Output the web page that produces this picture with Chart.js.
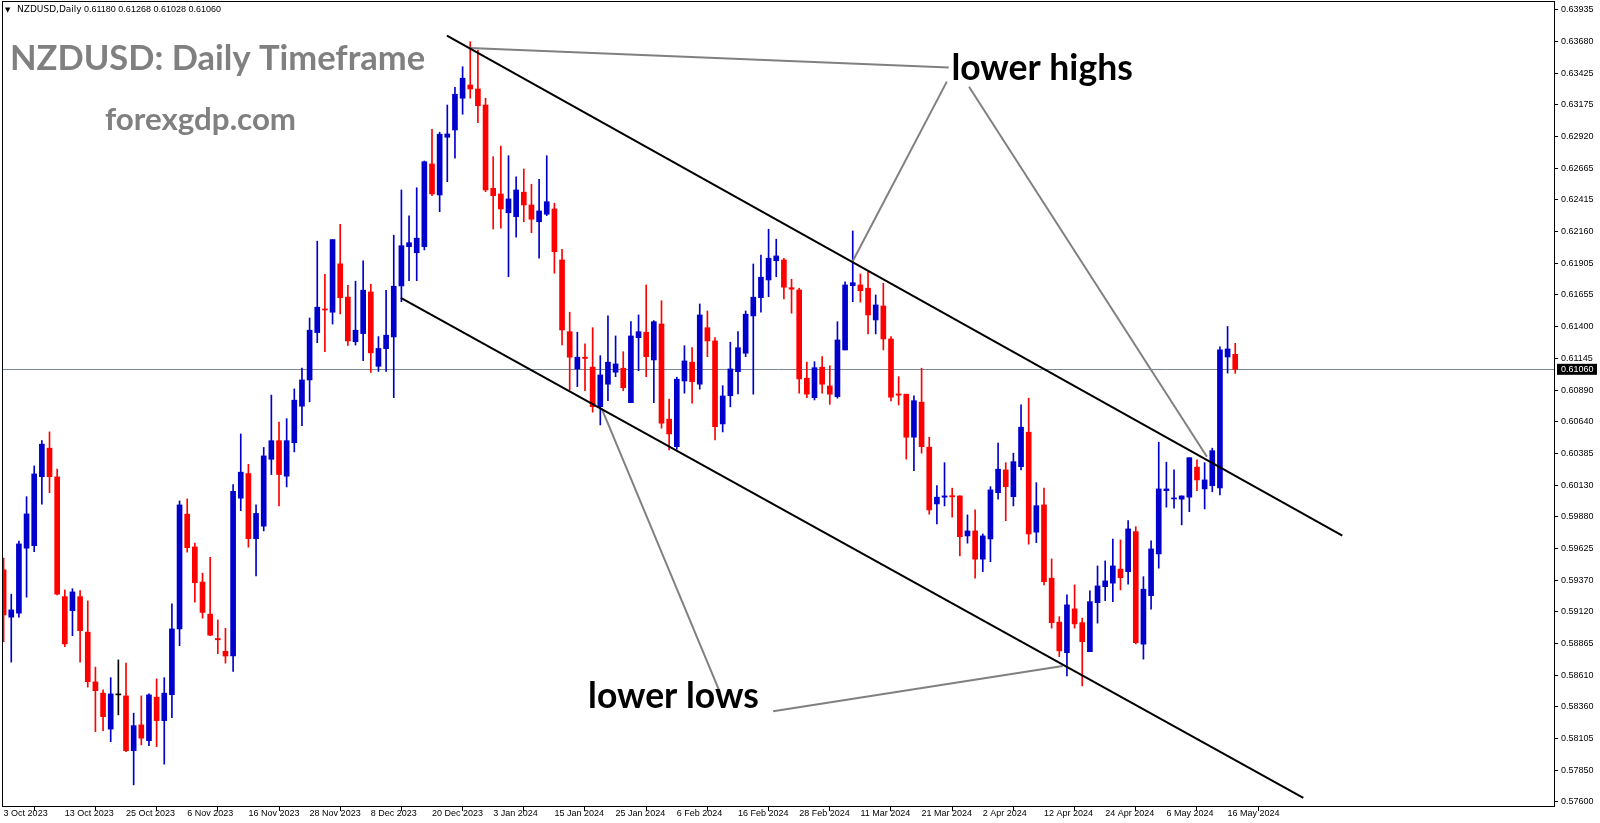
<!DOCTYPE html>
<html>
<head>
<meta charset="utf-8">
<title>NZDUSD Daily</title>
<script src="https://cdn.jsdelivr.net/npm/chart.js@4.4.1/dist/chart.umd.min.js"></script>
<style>
  html, body { margin: 0; padding: 0; background: #fff; }
  #wrap { width: 1600px; height: 823px; }
</style>
</head>
<body>
<div id="wrap"><canvas id="nzdChart" width="1600" height="823"></canvas></div>
<script>
// daily candles, 3 Oct 2023 .. 17 May 2024 (bar index = position on the x axis)
const opens = [
  0.59455, 0.59077, 0.59109, 0.59629, 0.59649, 0.60201, 0.60429, 0.60199, 0.59241, 0.59129,
  0.59241, 0.58957, 0.58559, 0.58469, 0.58181, 0.58455, 0.58447, 0.58009, 0.58215, 0.58089,
  0.58437, 0.58249, 0.58457, 0.58983, 0.59901, 0.59639, 0.59358, 0.59101, 0.58906, 0.58804,
  0.58766, 0.60029, 0.60226, 0.59705, 0.59805, 0.60340, 0.60489, 0.60205, 0.60473, 0.60765,
  0.60975, 0.61354, 0.61543, 0.61517, 0.61904, 0.61638, 0.61281, 0.61346, 0.61679, 0.61084,
  0.61225, 0.61319, 0.61727, 0.62041, 0.61993, 0.62041, 0.62703, 0.62455, 0.62917, 0.62975,
  0.63229, 0.63335, 0.63303, 0.63175, 0.62509, 0.62463, 0.62313, 0.62281, 0.62477, 0.62375,
  0.62241, 0.62301, 0.62343, 0.61935, 0.61361, 0.61063, 0.61157, 0.61077, 0.60761, 0.60941,
  0.61037, 0.61069, 0.60793, 0.61313, 0.61357, 0.61135, 0.61423, 0.60661, 0.60441, 0.60967,
  0.61117, 0.60941, 0.61393, 0.61287, 0.60623, 0.60849, 0.61041, 0.61189, 0.61487, 0.61633,
  0.61775, 0.61929, 0.61935, 0.61713, 0.61695, 0.60989, 0.60833, 0.61077, 0.60927, 0.60841,
  0.61215, 0.61729, 0.61735, 0.61709, 0.61455, 0.61567, 0.61303, 0.60863, 0.60861, 0.60517,
  0.60797, 0.60437, 0.59983, 0.60037, 0.60049, 0.60047, 0.59727, 0.59767, 0.59541, 0.59703,
  0.60073, 0.60255, 0.60041, 0.60281, 0.60557, 0.59757, 0.59975, 0.59389, 0.59037, 0.58793,
  0.59143, 0.59033, 0.58801, 0.59193, 0.59321, 0.59349, 0.59461, 0.59441, 0.59761, 0.58861,
  0.59249, 0.59583, 0.60089, 0.60023, 0.60021, 0.60037, 0.60277, 0.60103, 0.60129, 0.60111,
  0.61159, 0.61180
];
const highs = [
  0.59549, 0.59261, 0.59685, 0.60041, 0.60287, 0.60489, 0.60559, 0.60261, 0.59295, 0.59305,
  0.59289, 0.59207, 0.58677, 0.58495, 0.58593, 0.58735, 0.58709, 0.58309, 0.58447, 0.58463,
  0.58583, 0.58593, 0.59183, 0.60007, 0.60023, 0.59669, 0.59429, 0.59556, 0.59055, 0.58988,
  0.60137, 0.60543, 0.60300, 0.59975, 0.60435, 0.60854, 0.60637, 0.60665, 0.60903, 0.61070,
  0.61471, 0.62085, 0.61820, 0.62098, 0.62220, 0.61733, 0.61765, 0.61928, 0.61741, 0.61322,
  0.61693, 0.62133, 0.62495, 0.62289, 0.62513, 0.62727, 0.62981, 0.62957, 0.63175, 0.63317,
  0.63481, 0.63681, 0.63615, 0.63229, 0.62761, 0.62847, 0.62769, 0.62601, 0.62663, 0.62541,
  0.62581, 0.62769, 0.62389, 0.62021, 0.61517, 0.61357, 0.61263, 0.61393, 0.61169, 0.61487,
  0.61327, 0.61201, 0.61441, 0.61495, 0.61735, 0.61449, 0.61609, 0.60821, 0.60997, 0.61249,
  0.61233, 0.61583, 0.61527, 0.61313, 0.60929, 0.61277, 0.61361, 0.61527, 0.61903, 0.61975,
  0.62181, 0.62101, 0.61949, 0.61781, 0.61709, 0.61117, 0.61121, 0.61161, 0.61089, 0.61441,
  0.61761, 0.62167, 0.61823, 0.61841, 0.61655, 0.61749, 0.61321, 0.61001, 0.60861, 0.60847,
  0.61069, 0.60517, 0.60129, 0.60313, 0.60109, 0.60047, 0.59895, 0.59935, 0.59743, 0.60121,
  0.60469, 0.60313, 0.60389, 0.60775, 0.60829, 0.60153, 0.60109, 0.59543, 0.59081, 0.59255,
  0.59335, 0.59069, 0.59287, 0.59487, 0.59527, 0.59701, 0.59695, 0.59849, 0.59801, 0.59401,
  0.59687, 0.60477, 0.60317, 0.60255, 0.60047, 0.60353, 0.60335, 0.60313, 0.60429, 0.61239,
  0.61403, 0.61268
];
const lows = [
  0.58881, 0.58717, 0.59077, 0.59237, 0.59601, 0.59981, 0.60073, 0.59255, 0.58841, 0.58929,
  0.58717, 0.58517, 0.58161, 0.58169, 0.58081, 0.58295, 0.58000, 0.57735, 0.58055, 0.58049,
  0.58041, 0.57901, 0.58273, 0.58849, 0.59597, 0.59197, 0.59069, 0.58928, 0.58785, 0.58709,
  0.58642, 0.59929, 0.59637, 0.59407, 0.59767, 0.60218, 0.59967, 0.60119, 0.60399, 0.60610,
  0.60800, 0.61273, 0.61201, 0.61422, 0.61503, 0.61252, 0.61254, 0.61130, 0.61035, 0.61043,
  0.61043, 0.60833, 0.61601, 0.61769, 0.61769, 0.62015, 0.62449, 0.62321, 0.62561, 0.62749,
  0.63101, 0.63229, 0.63033, 0.62481, 0.62183, 0.62189, 0.61801, 0.62117, 0.62241, 0.62153,
  0.61949, 0.62290, 0.61829, 0.61255, 0.60895, 0.60921, 0.60889, 0.60717, 0.60615, 0.60809,
  0.61001, 0.60889, 0.60793, 0.61049, 0.61001, 0.60793, 0.60589, 0.60415, 0.60420, 0.60869,
  0.60789, 0.60901, 0.61161, 0.60495, 0.60559, 0.60760, 0.60863, 0.61161, 0.60861, 0.61517,
  0.61641, 0.61801, 0.61623, 0.61509, 0.60869, 0.60833, 0.60815, 0.60869, 0.60780, 0.60829,
  0.61215, 0.61601, 0.61597, 0.61343, 0.61343, 0.61215, 0.60807, 0.60775, 0.60341, 0.60249,
  0.60389, 0.59901, 0.59823, 0.59967, 0.59877, 0.59567, 0.59669, 0.59389, 0.59441, 0.59521,
  0.60021, 0.59849, 0.59967, 0.60255, 0.59661, 0.59673, 0.59335, 0.58989, 0.58761, 0.58607,
  0.58989, 0.58527, 0.58801, 0.59029, 0.59209, 0.59201, 0.59295, 0.59341, 0.58863, 0.58741,
  0.59141, 0.59469, 0.59957, 0.59949, 0.59815, 0.59921, 0.60089, 0.59943, 0.60080, 0.60055,
  0.61030, 0.61028
];
const closes = [
  0.59095, 0.59135, 0.59663, 0.59903, 0.60223, 0.60461, 0.60201, 0.59261, 0.58863, 0.59279,
  0.58969, 0.58561, 0.58489, 0.58281, 0.58463, 0.58455, 0.58009, 0.58209, 0.58109, 0.58455,
  0.58249, 0.58469, 0.58983, 0.59975, 0.59633, 0.59353, 0.59115, 0.58933, 0.58896, 0.58766,
  0.60083, 0.60237, 0.59705, 0.59907, 0.60367, 0.60489, 0.60218, 0.60489, 0.60813, 0.60975,
  0.61373, 0.61557, 0.61535, 0.62098, 0.61633, 0.61287, 0.61373, 0.61693, 0.61192, 0.61227,
  0.61333, 0.61725, 0.62049, 0.62073, 0.62109, 0.62721, 0.62463, 0.62941, 0.62943, 0.63261,
  0.63389, 0.63303, 0.63169, 0.62495, 0.62449, 0.62343, 0.62423, 0.62495, 0.62375, 0.62261,
  0.62327, 0.62401, 0.62001, 0.61375, 0.61157, 0.61157, 0.61147, 0.60761, 0.61015, 0.61117,
  0.61103, 0.60913, 0.61327, 0.61361, 0.61161, 0.61441, 0.60629, 0.60543, 0.60981, 0.61127,
  0.60961, 0.61495, 0.61287, 0.60601, 0.60847, 0.61063, 0.61233, 0.61501, 0.61637, 0.61797,
  0.61949, 0.61967, 0.61717, 0.61701, 0.60983, 0.60861, 0.61073, 0.60941, 0.60861, 0.61295,
  0.61735, 0.61753, 0.61689, 0.61495, 0.61575, 0.61303, 0.60837, 0.60853, 0.60517, 0.60809,
  0.60441, 0.59935, 0.60037, 0.60047, 0.60040, 0.59721, 0.59767, 0.59541, 0.59727, 0.60095,
  0.60261, 0.60121, 0.60321, 0.60597, 0.59743, 0.59969, 0.59361, 0.59033, 0.58807, 0.59175,
  0.59023, 0.58881, 0.59201, 0.59327, 0.59367, 0.59487, 0.59393, 0.59783, 0.58873, 0.59301,
  0.59623, 0.60103, 0.60103, 0.60027, 0.60047, 0.60353, 0.60175, 0.60175, 0.60409, 0.61215,
  0.61223, 0.61060
];

// x axis labels, one every 8 bars
const dateLabels = [
  '3 Oct 2023', '13 Oct 2023', '25 Oct 2023', '6 Nov 2023', '16 Nov 2023', '28 Nov 2023',
  '8 Dec 2023', '20 Dec 2023', '3 Jan 2024', '15 Jan 2024', '25 Jan 2024', '6 Feb 2024',
  '16 Feb 2024', '28 Feb 2024', '11 Mar 2024', '21 Mar 2024', '2 Apr 2024', '12 Apr 2024',
  '24 Apr 2024', '6 May 2024', '16 May 2024'
];
const priceTicks = [
  0.63935, 0.63680, 0.63425, 0.63175, 0.62920, 0.62665, 0.62415, 0.62160, 0.61905, 0.61655,
  0.61400, 0.61145, 0.60890, 0.60640, 0.60385, 0.60130, 0.59880, 0.59625, 0.59370, 0.59120,
  0.58865, 0.58610, 0.58360, 0.58105, 0.57850, 0.57600
];

// drawn objects: [bar index, price] end points
const upperChannel = [[57.95, 0.63729], [175.0, 0.59729]];
const lowerChannel = [[51.93, 0.61631], [169.9, 0.57631]];
const highsLeader = [[60.95, 0.63631], [123.55, 0.63475]];
const highsPointerA = [[123.3, 0.63362], [110.96, 0.61921]];
const highsPointerB = [[126.2, 0.63321], [157.3, 0.60361]];
const lowsPointerA = [[78.16, 0.60749], [93.55, 0.58489]];
const lowsPointerB = [[100.6, 0.58325], [138.45, 0.58687]];
const callouts = [
  { text: 'lower highs', x: 123.9, y: 0.63375 },
  { text: 'lower lows', x: 76.4, y: 0.58351 }
];

const BULL = '#0000cd';
const BEAR = '#ff0000';
const DOJI = '#000000';
const last = closes.length - 1;

const candleColors = opens.map((o, i) => closes[i] > o ? BULL : (closes[i] < o ? BEAR : DOJI));
const bodies = opens.map((o, i) => ({ x: i, y: [o, closes[i]] }));
const wicks = opens.map((o, i) => ({ x: i, y: [lows[i], highs[i]] }));

function lineSet(pts, color, width) {
    return {
        type: 'line',
        data: pts.map(p => ({ x: p[0], y: p[1] })),
        borderColor: color,
        borderWidth: width,
        pointRadius: 0,
        tension: 0,
        fill: false,
        order: 0
    };
}

function fitFont(ctx, text, weight, family, width) {
    ctx.font = weight + ' 40px ' + family;
    const size = 40 * width / ctx.measureText(text).width;
    return weight + ' ' + size.toFixed(1) + 'px ' + family;
}

// chart.js reserves half a label above/below the axis; MT4 does not
function noScalePadding(s) {
    s.paddingTop = 0;
    s.paddingBottom = 0;
    s.paddingLeft = 0;
    s.paddingRight = 0;
}

const decorations = {
    id: 'decorations',
    beforeDatasetsDraw(chart) {
        const ctx = chart.ctx;
        const area = chart.chartArea;
        const yPix = chart.scales.y.getPixelForValue(closes[last]);
        ctx.save();
        ctx.strokeStyle = '#778899';
        ctx.lineWidth = 1;
        ctx.beginPath();
        ctx.moveTo(area.left, Math.round(yPix) + 0.5);
        ctx.lineTo(area.right, Math.round(yPix) + 0.5);
        ctx.stroke();
        ctx.restore();
    },
    afterDraw(chart) {
        const ctx = chart.ctx;
        const area = chart.chartArea;
        const xs = chart.scales.x;
        const ys = chart.scales.y;
        ctx.save();

        // frame
        ctx.strokeStyle = '#000';
        ctx.lineWidth = 1;
        ctx.strokeRect(area.left - 0.5, area.top - 0.5, area.right - area.left + 1, area.bottom - area.top + 1);

        // current price box
        const yPix = ys.getPixelForValue(closes[last]);
        ctx.fillStyle = '#000';
        ctx.fillRect(area.right + 3, yPix - 5.5, 40, 11);
        ctx.fillStyle = '#fff';
        ctx.font = '9px "Liberation Sans"';
        ctx.textBaseline = 'middle';
        ctx.textAlign = 'left';
        ctx.fillText(closes[last].toFixed(5), area.right + 7, yPix + 0.5);

        // header line
        ctx.fillStyle = '#000';
        ctx.textBaseline = 'alphabetic';
        ctx.font = '7px "DejaVu Sans"';
        ctx.fillText('\u25BC', 5, 12);
        ctx.font = '9px "DejaVu Sans"';
        ctx.fillText('NZDUSD,Daily', 17, 12);
        const ohlc = [opens[last], highs[last], lows[last], closes[last]].map(v => v.toFixed(5)).join(' ');
        ctx.font = '9px "Liberation Sans"';
        ctx.fillText(ohlc, 84, 12);

        // watermark titles
        ctx.fillStyle = '#808080';
        ctx.font = fitFont(ctx, 'NZDUSD: Daily Timeframe', 'bold', 'Lato', 415);
        ctx.fillText('NZDUSD: Daily Timeframe', 10, 70);
        ctx.font = fitFont(ctx, 'forexgdp.com', 'bold', 'Lato', 191);
        ctx.fillText('forexgdp.com', 105, 130);

        // callout texts
        ctx.fillStyle = '#000';
        callouts.forEach(c => {
            ctx.font = 'bold 35.5px Lato';
            ctx.fillText(c.text, xs.getPixelForValue(c.x), ys.getPixelForValue(c.y));
        });
        ctx.restore();
    }
};

const tickFont = { family: 'Liberation Sans', size: 9 };

new Chart(document.getElementById('nzdChart'), {
    type: 'bar',
    data: {
        datasets: [
            lineSet(upperChannel, '#000000', 2),
            lineSet(lowerChannel, '#000000', 2),
            lineSet(highsLeader, '#808080', 2),
            lineSet(highsPointerA, '#808080', 2),
            lineSet(highsPointerB, '#808080', 2),
            lineSet(lowsPointerA, '#808080', 2),
            lineSet(lowsPointerB, '#808080', 2),
            {
                label: 'body',
                data: bodies,
                backgroundColor: candleColors,
                borderWidth: 0,
                barThickness: 5,
                minBarLength: 1,
                grouped: false,
                order: 1
            },
            {
                label: 'wick',
                data: wicks,
                backgroundColor: candleColors,
                borderWidth: 0,
                barThickness: 1,
                grouped: false,
                order: 2
            }
        ]
    },
    options: {
        responsive: false,
        animation: false,
        devicePixelRatio: 1,
        layout: { padding: { left: 3, top: 2, right: 0, bottom: 0 } },
        plugins: { legend: { display: false }, tooltip: { enabled: false } },
        scales: {
            x: {
                type: 'linear',
                min: -0.08,
                max: 202.67,
                offset: false,
                afterBuildTicks: s => { s.ticks = dateLabels.map((d, k) => ({ value: k * 8 })); },
                afterFit: s => { s.height = 17; noScalePadding(s); },
                ticks: {
                    autoSkip: false,
                    maxRotation: 0,
                    align: 'start',
                    padding: -3,
                    color: '#000',
                    font: tickFont,
                    callback: v => dateLabels[Math.round(v / 8)]
                },
                grid: { display: true, drawOnChartArea: false, drawTicks: true, tickLength: 5, color: '#000' },
                border: { display: false }
            },
            y: {
                position: 'right',
                min: 0.57566,
                max: 0.63999,
                afterBuildTicks: s => { s.ticks = priceTicks.map(v => ({ value: v })); },
                afterFit: s => { s.width = 46; noScalePadding(s); },
                ticks: {
                    padding: 3,
                    color: '#000',
                    font: tickFont,
                    callback: v => v.toFixed(5)
                },
                grid: { display: true, drawOnChartArea: false, drawTicks: true, tickLength: 4, color: '#000' },
                border: { display: false }
            }
        }
    },
    plugins: [decorations]
});
</script>
</body>
</html>
